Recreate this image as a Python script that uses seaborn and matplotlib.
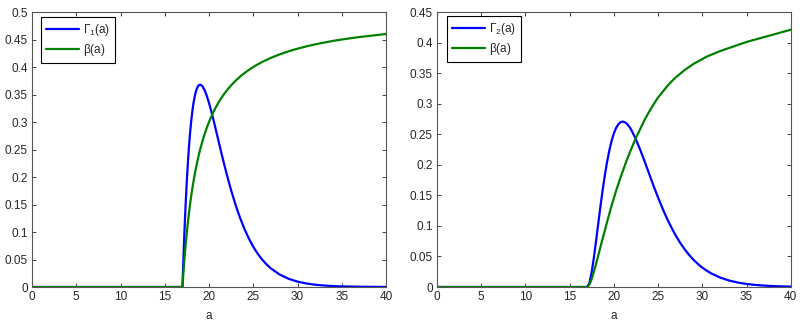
import matplotlib
matplotlib.use("Agg")
import matplotlib.pyplot as plt
import seaborn as sns
import pandas as pd

# ---- data ----
a1 = [0, 5, 10, 15, 16.9, 17.0, 17.1, 17.125, 17.25, 17.375, 17.5, 17.625, 17.75, 17.875,
      18.0, 18.125, 18.25, 18.375, 18.5, 18.625, 18.75, 18.875, 19.0, 19.25, 19.5, 19.75,
      20.0, 20.25, 20.5, 20.75, 21.0, 21.25, 21.5, 21.75, 22.0, 22.5, 23.0, 23.5, 24.0,
      24.5, 25.0, 25.5, 26.0, 26.5, 27.0, 28.0, 29.0, 30.0, 31.0, 32.0, 33.0, 34.0,
      35.0, 37.0, 40.0]
gamma1 = [0, 0, 0, 0, 0, 0.0, 0.0476, 0.0587, 0.1103, 0.1554, 0.1947, 0.2286, 0.2577,
          0.2825, 0.3033, 0.3205, 0.3346, 0.3457, 0.3543, 0.3605, 0.3648, 0.3671, 0.3679,
          0.3653, 0.3581, 0.3476, 0.3347, 0.3200, 0.3041, 0.2876, 0.2707, 0.2538, 0.2371,
          0.2209, 0.2052, 0.1758, 0.1494, 0.1262, 0.1057, 0.0883, 0.0733, 0.0606, 0.0500,
          0.0411, 0.0337, 0.0225, 0.0149, 0.0098, 0.0064, 0.0041, 0.0027, 0.0017, 0.0011,
          0.0005, 0.0001]
beta1 = [0, 0, 0, 0, 0, 0.0, 0.0238, 0.0294, 0.0556, 0.0789, 0.1000, 0.1190, 0.1364,
         0.1522, 0.1667, 0.1800, 0.1923, 0.2037, 0.2143, 0.2241, 0.2333, 0.2419, 0.2500,
         0.2647, 0.2778, 0.2895, 0.3000, 0.3095, 0.3182, 0.3261, 0.3333, 0.3400, 0.3462,
         0.3519, 0.3571, 0.3667, 0.3750, 0.3824, 0.3889, 0.3947, 0.4000, 0.4048, 0.4091,
         0.4130, 0.4167, 0.4231, 0.4286, 0.4333, 0.4375, 0.4412, 0.4444, 0.4474, 0.4500,
         0.4545, 0.4600]

a2 = [0, 5, 10, 15, 16.9, 17.0, 17.25, 17.5, 17.75, 18.0, 18.25, 18.5, 18.75, 19.0,
      19.25, 19.5, 19.75, 20.0, 20.25, 20.5, 20.75, 21.0, 21.25, 21.5, 21.75, 22.0,
      22.5, 23.0, 23.5, 24.0, 24.5, 25.0, 25.5, 26.0, 26.5, 27.0, 27.5, 28.0, 28.5,
      29.0, 29.5, 30.0, 30.5, 31.0, 32.0, 33.0, 34.0, 35.0, 36.0, 37.0, 38.0, 39.0, 40.0]
gamma2 = [0, 0, 0, 0, 0, 0.0, 0.0069, 0.0243, 0.0483, 0.0758, 0.1045, 0.1329, 0.1596,
          0.1839, 0.2055, 0.2238, 0.2390, 0.2510, 0.2600, 0.2661, 0.2696, 0.2707, 0.2696,
          0.2668, 0.2623, 0.2565, 0.2416, 0.2240, 0.2049, 0.1850, 0.1652, 0.1465, 0.1288,
          0.1124, 0.0976, 0.0842, 0.0723, 0.0619, 0.0526, 0.0446, 0.0377, 0.0317, 0.0267,
          0.0223, 0.0156, 0.0107, 0.0073, 0.0050, 0.0034, 0.0023, 0.0015, 0.0010, 0.0007]
beta2 = [0, 0, 0, 0, 0, 0.0, 0.004, 0.013, 0.025, 0.038, 0.052, 0.066, 0.080, 0.093,
         0.107, 0.120, 0.133, 0.145, 0.157, 0.168, 0.179, 0.189, 0.199, 0.209, 0.218,
         0.227, 0.244, 0.259, 0.274, 0.287, 0.299, 0.310, 0.319, 0.328, 0.336, 0.343,
         0.349, 0.355, 0.360, 0.365, 0.369, 0.373, 0.377, 0.380, 0.386, 0.391, 0.396,
         0.401, 0.405, 0.409, 0.413, 0.417, 0.421]

x_ticks = [0, 5, 10, 15, 20, 25, 30, 35, 40]
y_ticks1 = [0, 0.05, 0.1, 0.15, 0.2, 0.25, 0.3, 0.35, 0.4, 0.45, 0.5]
y_ticks2 = [0, 0.05, 0.1, 0.15, 0.2, 0.25, 0.3, 0.35, 0.4, 0.45]
labels1 = [r"$\Gamma_1$(a)", r"$\beta$(a)"]
labels2 = [r"$\Gamma_2$(a)", r"$\beta$(a)"]

BLUE = "#0000ff"
GREEN = "#008000"
FS = 8.5

sns.set_style("ticks")
plt.rcParams["font.family"] = ["Liberation Sans", "DejaVu Sans"]
plt.rcParams["mathtext.fontset"] = "custom"
plt.rcParams["mathtext.rm"] = "Liberation Sans"
plt.rcParams["mathtext.it"] = "Liberation Sans"

fig = plt.figure(figsize=(8.0, 3.27), dpi=100)
ax1 = fig.add_axes([0.040, 0.1223, 0.4425, 0.8410])
ax2 = fig.add_axes([0.546, 0.1223, 0.4425, 0.8410])


def fmt(v):
    return ("%.2f" % v).rstrip("0").rstrip(".")


def draw(ax, a, g, b, labels, yt, ymax, anchor):
    df = pd.DataFrame({"a": a, "g": g, "b": b})
    sns.lineplot(data=df, x="a", y="g", ax=ax, color=BLUE, lw=1.6, label=labels[0])
    sns.lineplot(data=df, x="a", y="b", ax=ax, color=GREEN, lw=1.6, label=labels[1])
    ax.set_xlim(0, 40)
    ax.set_ylim(0, ymax)
    ax.set_xticks(x_ticks)
    ax.set_xticklabels([str(t) for t in x_ticks])
    ax.set_yticks(yt)
    ax.set_yticklabels([fmt(t) for t in yt])
    ax.set_xlabel("a", fontsize=FS, labelpad=5)
    ax.set_ylabel("")
    ax.tick_params(direction="in", length=3, width=0.6, labelsize=FS, colors="#262626",
                   top=True, right=True, pad=3)
    for s in ax.spines.values():
        s.set_visible(True)
        s.set_color("#555555")
        s.set_linewidth(0.8)
    leg = ax.legend(loc="upper left", bbox_to_anchor=anchor, borderaxespad=0,
                    fontsize=FS, handlelength=2.8, frameon=True,
                    fancybox=False, framealpha=1, edgecolor="black",
                    borderpad=0.45, labelspacing=0.3, handletextpad=0.3)
    leg.get_frame().set_linewidth(0.8)


draw(ax1, a1, gamma1, beta1, labels1, y_ticks1, 0.5, (9 / 354, 1 - 5 / 275))
draw(ax2, a2, gamma2, beta2, labels2, y_ticks2, 0.45, (10 / 354, 1 - 4 / 275))

fig.savefig("out.png", dpi=100)
